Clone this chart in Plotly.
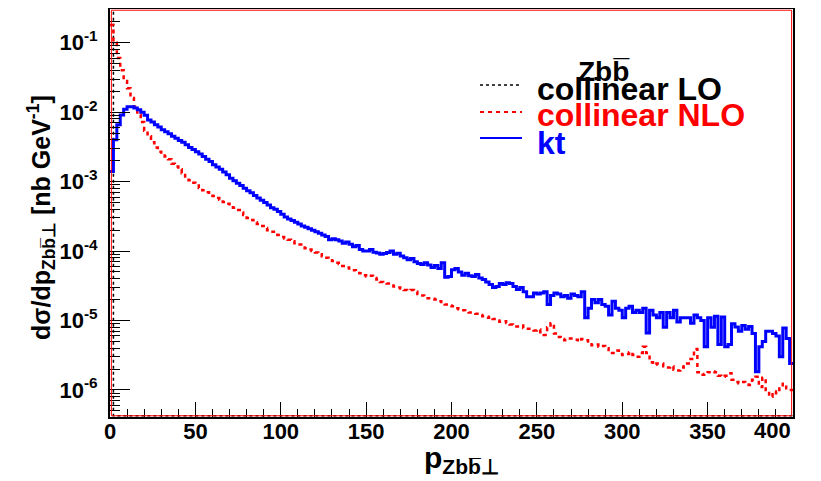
import numpy as np
import plotly.graph_objects as go

# ---------------- data (2 GeV bins, 0..400 GeV) ----------------
bin_width = 2.0
pt_min, pt_max = 0.0, 400.0

kt = [
    1.4e-3, 4.0e-3, 6.6e-3, 9.1e-3, 1.1e-2, 1.2e-2, 1.2e-2, 1.15e-2, 1.08e-2, 1.0e-2,
    9.0e-3, 7.7e-3, 7.2e-3, 6.6e-3, 6.1e-3, 5.6e-3, 5.2e-3, 4.9e-3, 4.5e-3, 4.2e-3,
    3.9e-3, 3.7e-3, 3.4e-3, 3.1e-3, 2.9e-3, 2.7e-3, 2.5e-3, 2.3e-3, 2.1e-3, 1.95e-3,
    1.75e-3, 1.62e-3, 1.5e-3, 1.38e-3, 1.25e-3, 1.12e-3, 1.03e-3, 9.5e-4, 8.8e-4, 8.0e-4,
    7.4e-4, 6.9e-4, 6.3e-4, 5.8e-4, 5.4e-4, 5.0e-4, 4.6e-4, 4.2e-4, 4.0e-4, 3.7e-4,
    3.4e-4, 3.1e-4, 2.9e-4, 2.75e-4, 2.6e-4, 2.45e-4, 2.3e-4, 2.2e-4, 2.1e-4, 2.0e-4,
    1.9e-4, 1.8e-4, 1.7e-4, 1.62e-4, 1.45e-4, 1.5e-4, 1.45e-4, 1.4e-4, 1.3e-4, 1.35e-4,
    1.25e-4, 1.15e-4, 1.2e-4, 1.05e-4, 1.0e-4, 1.0e-4, 1.05e-4, 9.6e-5, 9.4e-5, 9.0e-5,
    9.2e-5, 9.5e-5, 1.0e-4, 9.0e-5, 9.3e-5, 8.5e-5, 8.0e-5, 7.5e-5, 7.8e-5, 7.0e-5,
    6.6e-5, 6.4e-5, 6.8e-5, 6.3e-5, 5.8e-5, 6.2e-5, 5.6e-5, 6.8e-5, 4.2e-5, 4.3e-5,
    5.4e-5, 5.6e-5, 5.0e-5, 4.5e-5, 4.8e-5, 4.4e-5, 4.3e-5, 4.6e-5, 4.1e-5, 3.9e-5,
    3.6e-5, 3.3e-5, 3.0e-5, 3.1e-5, 3.4e-5, 3.3e-5, 3.5e-5, 3.4e-5, 3.1e-5, 2.8e-5,
    3.0e-5, 2.6e-5, 2.2e-5, 2.2e-5, 2.5e-5, 2.4e-5, 2.5e-5, 2.6e-5, 1.7e-5, 2.3e-5,
    2.5e-5, 2.4e-5, 2.2e-5, 2.3e-5, 2.1e-5, 2.4e-5, 2.3e-5, 2.2e-5, 2.6e-5, 1.1e-5,
    1.5e-5, 2.0e-5, 1.8e-5, 2.0e-5, 1.7e-5, 1.6e-5, 1.2e-5, 1.9e-5, 1.5e-5, 1.4e-5,
    1.1e-5, 1.5e-5, 1.6e-5, 1.3e-5, 1.4e-5, 1.3e-5, 1.5e-5, 6.6e-6, 1.4e-5, 1.2e-5,
    1.1e-5, 1.3e-5, 8.0e-6, 1.3e-5, 1.1e-5, 1.4e-5, 9.5e-6, 1.1e-5, 1.1e-5, 1.1e-5,
    9.1e-6, 1.2e-5, 1.1e-5, 1.0e-5, 4.2e-6, 1.1e-5, 8.0e-6, 1.15e-5, 4.5e-6, 1.12e-5,
    4.2e-6, 4.5e-6, 9.0e-6, 8.1e-6, 7.0e-6, 8.5e-6, 7.5e-6, 8.2e-6, 6.5e-6, 1.83e-6,
    4.2e-6, 5.0e-6, 7.0e-6, 7.0e-6, 6.5e-6, 6.0e-6, 3.0e-6, 7.8e-6, 5.5e-6, 2.4e-6,
]

collinear_nlo = [
    1.8e-1, 1.0e-1, 6.0e-2, 4.0e-2, 2.8e-2, 2.2e-2, 1.6e-2, 1.2e-2, 9.2e-3, 7.2e-3,
    5.4e-3, 4.5e-3, 3.7e-3, 3.1e-3, 2.7e-3, 2.5e-3, 2.3e-3, 2.1e-3, 1.8e-3, 1.65e-3,
    1.5e-3, 1.32e-3, 1.18e-3, 1.05e-3, 9.6e-4, 8.8e-4, 8.1e-4, 7.5e-4, 7.0e-4, 6.6e-4,
    6.2e-4, 5.8e-4, 5.5e-4, 5.1e-4, 4.8e-4, 4.5e-4, 4.2e-4, 3.9e-4, 3.6e-4, 3.3e-4,
    3.0e-4, 2.8e-4, 2.6e-4, 2.45e-4, 2.3e-4, 2.15e-4, 2.0e-4, 1.9e-4, 1.8e-4, 1.7e-4,
    1.6e-4, 1.52e-4, 1.45e-4, 1.38e-4, 1.3e-4, 1.24e-4, 1.18e-4, 1.1e-4, 1.05e-4, 1.0e-4,
    9.5e-5, 9.0e-5, 8.4e-5, 8.0e-5, 7.4e-5, 7.2e-5, 6.8e-5, 6.5e-5, 6.1e-5, 5.8e-5,
    5.6e-5, 5.3e-5, 5.1e-5, 4.8e-5, 4.5e-5, 4.3e-5, 4.4e-5, 4.1e-5, 3.9e-5, 3.6e-5,
    3.5e-5, 3.4e-5, 3.2e-5, 3.1e-5, 3.0e-5, 2.9e-5, 2.75e-5, 2.7e-5, 2.75e-5, 2.6e-5,
    2.4e-5, 2.3e-5, 2.2e-5, 2.1e-5, 2.05e-5, 2.0e-5, 1.9e-5, 1.75e-5, 1.7e-5, 1.65e-5,
    1.6e-5, 1.5e-5, 1.45e-5, 1.4e-5, 1.35e-5, 1.3e-5, 1.3e-5, 1.25e-5, 1.2e-5, 1.15e-5,
    1.1e-5, 1.13e-5, 1.05e-5, 1.0e-5, 9.6e-6, 9.8e-6, 9.2e-6, 8.8e-6, 8.6e-6, 8.2e-6,
    8.5e-6, 7.8e-6, 7.6e-6, 7.6e-6, 7.2e-6, 7.4e-6, 6.8e-6, 6.2e-6, 8.0e-6, 9.1e-6,
    6.5e-6, 5.8e-6, 5.4e-6, 5.2e-6, 5.5e-6, 5.5e-6, 5.3e-6, 5.0e-6, 5.4e-6, 5.2e-6,
    5.0e-6, 4.4e-6, 4.5e-6, 4.2e-6, 4.3e-6, 4.0e-6, 3.6e-6, 3.4e-6, 3.7e-6, 3.3e-6,
    3.2e-6, 3.3e-6, 3.5e-6, 3.2e-6, 3.0e-6, 3.4e-6, 4.2e-6, 3.4e-6, 2.5e-6, 2.3e-6,
    2.4e-6, 2.4e-6, 2.2e-6, 2.1e-6, 2.2e-6, 1.95e-6, 1.9e-6, 2.1e-6, 2.2e-6, 2.4e-6,
    2.8e-6, 3.9e-6, 1.8e-6, 1.65e-6, 1.7e-6, 1.8e-6, 1.85e-6, 1.8e-6, 1.6e-6, 1.55e-6,
    1.6e-6, 1.74e-6, 1.4e-6, 1.3e-6, 1.25e-6, 1.3e-6, 1.2e-6, 1.18e-6, 1.4e-6, 1.55e-6,
    1.1e-6, 1.5e-6, 1.0e-6, 8.0e-7, 9.5e-7, 9.0e-7, 1.1e-6, 1.23e-6, 1.0e-6, 1.0e-6,
]

# collinear LO: all events at pT = 0 (delta in first bin), zero elsewhere
collinear_lo = [1.0] + [0.0] * 199

series_names = ["collinear LO", "collinear NLO", "kt"]
x_tick_values = [0, 50, 100, 150, 200, 250, 300, 350, 400]
x_tick_labels = ["0", "50", "100", "150", "200", "250", "300", "350", "400"]
y_decades = [-6, -5, -4, -3, -2, -1]

# ---------------- layout constants ----------------
Y_LOG_RANGE = [-6.389, -0.515]
FONT = "Liberation Sans, Arial, Helvetica, sans-serif"
TICKFONT = dict(family=FONT, size=22, weight="bold", color="black")

edges = np.arange(pt_min, pt_max + bin_width, bin_width)
y_floor = 10 ** Y_LOG_RANGE[0] * 1.04


def step_y(vals):
    v = np.asarray(vals, dtype=float)
    v = np.where(v > 0, v, y_floor)  # empty bins drawn on the frame floor (ROOT style)
    return np.append(v, v[-1])


fig = go.Figure()
fig.add_trace(go.Scatter(x=edges, y=step_y(collinear_lo), mode="lines", line_shape="hv",
                         line=dict(color="black", width=1.5, dash="dot"),
                         name=series_names[0], showlegend=False))
fig.add_trace(go.Scatter(x=edges, y=step_y(collinear_nlo), mode="lines", line_shape="hv",
                         line=dict(color="#ff0000", width=2.5, dash="4px,4px"),
                         name=series_names[1], showlegend=False))
fig.add_trace(go.Scatter(x=edges, y=step_y(kt), mode="lines", line_shape="hv",
                         line=dict(color="#0000ff", width=3),
                         name=series_names[2], showlegend=False))

minor_y = [k * 10.0 ** e for e in range(-7, 0) for k in range(2, 10)]

# page body has an 8px default margin: figure is 813x473 so that it fits the 821x481 window
fig.update_layout(
    width=813, height=473,
    margin=dict(l=102, r=28, t=1, b=64),
    paper_bgcolor="white", plot_bgcolor="white",
    font=dict(family=FONT, color="black"),
    xaxis=dict(
        range=[pt_min, pt_max], showgrid=False, zeroline=False, automargin=False,
        showline=True, linecolor="black", linewidth=2, mirror=True,
        ticks="inside", ticklen=15, tickwidth=1, tickcolor="black",
        tickvals=x_tick_values,
        ticktext=x_tick_labels[:-1] + [""],  # last label placed inside the frame below
        ticklabelstandoff=-6, tickfont=TICKFONT,
        minor=dict(ticks="inside", ticklen=8, tickwidth=1, tickcolor="black", dtick=10),
    ),
    yaxis=dict(
        type="log", range=Y_LOG_RANGE, showgrid=False, zeroline=False, automargin=False,
        showline=True, linecolor="black", linewidth=2, mirror=True,
        ticks="inside", ticklen=20, tickwidth=1, tickcolor="black",
        tickvals=[10.0 ** d for d in y_decades],
        ticktext=["10<sup>%d</sup>" % d for d in y_decades],
        ticklabelstandoff=6, tickfont=TICKFONT,
        minor=dict(ticks="inside", ticklen=10, tickwidth=1, tickcolor="black",
                   tickvals=minor_y),
    ),
)

# last x tick label, right-aligned on the frame edge as ROOT does
fig.add_annotation(xref="paper", yref="paper", x=1.0, y=-0.034, xanchor="right",
                   yanchor="middle", showarrow=False, text=x_tick_labels[-1],
                   font=TICKFONT)

# frame drawn a second time in red just inside (as in the original canvas)
fig.add_shape(type="rect", xref="paper", yref="paper", x0=0.002, x1=0.998, y0=0.003, y1=0.997,
              line=dict(color="#ff0000", width=1), layer="above")

# axis titles
fig.add_annotation(xref="paper", yref="paper", x=0.515, y=-0.105, xanchor="center",
                   yanchor="middle", showarrow=False,
                   text="<b>p<sub>Zbb\u0305\u22a5</sub></b>",
                   font=dict(family=FONT, size=30, color="black"))
fig.add_annotation(xref="paper", yref="paper", x=-0.101, y=0.488, xanchor="center",
                   yanchor="middle", showarrow=False, textangle=-90,
                   text="<b>d\u03c3/dp<sub>Zbb\u0305\u22a5</sub> [nb GeV<sup>-1</sup>]</b>",
                   font=dict(family=FONT, size=25, color="black"))

# legend (header, samples, labels)
leg_x_text = 0.6222
leg_items = [
    (series_names[0], "black", 0.8039, 0.8137, dict(color="black", width=1.5, dash="dot")),
    (series_names[1], "#ff0000", 0.7402, 0.7475, dict(color="#ff0000", width=2, dash="4px,4px")),
    (series_names[2], "#0000ff", 0.6716, 0.6838, dict(color="#0000ff", width=2)),
]
fig.add_annotation(xref="paper", yref="paper", x=0.7233, y=0.8456, xanchor="center",
                   yanchor="middle", showarrow=False,
                   text="<b>Zbb\u0305</b>", font=dict(family=FONT, size=28, color="black"))
for name, col, ty, ly, ln in leg_items:
    fig.add_annotation(xref="paper", yref="paper", x=leg_x_text, y=ty, xanchor="left",
                       yanchor="middle", showarrow=False, text="<b>%s</b>" % name,
                       font=dict(family=FONT, size=32, color=col))
    fig.add_shape(type="line", xref="paper", yref="paper", x0=0.5417, x1=0.6032,
                  y0=ly, y1=ly, line=ln)

fig.write_html("out.html")
